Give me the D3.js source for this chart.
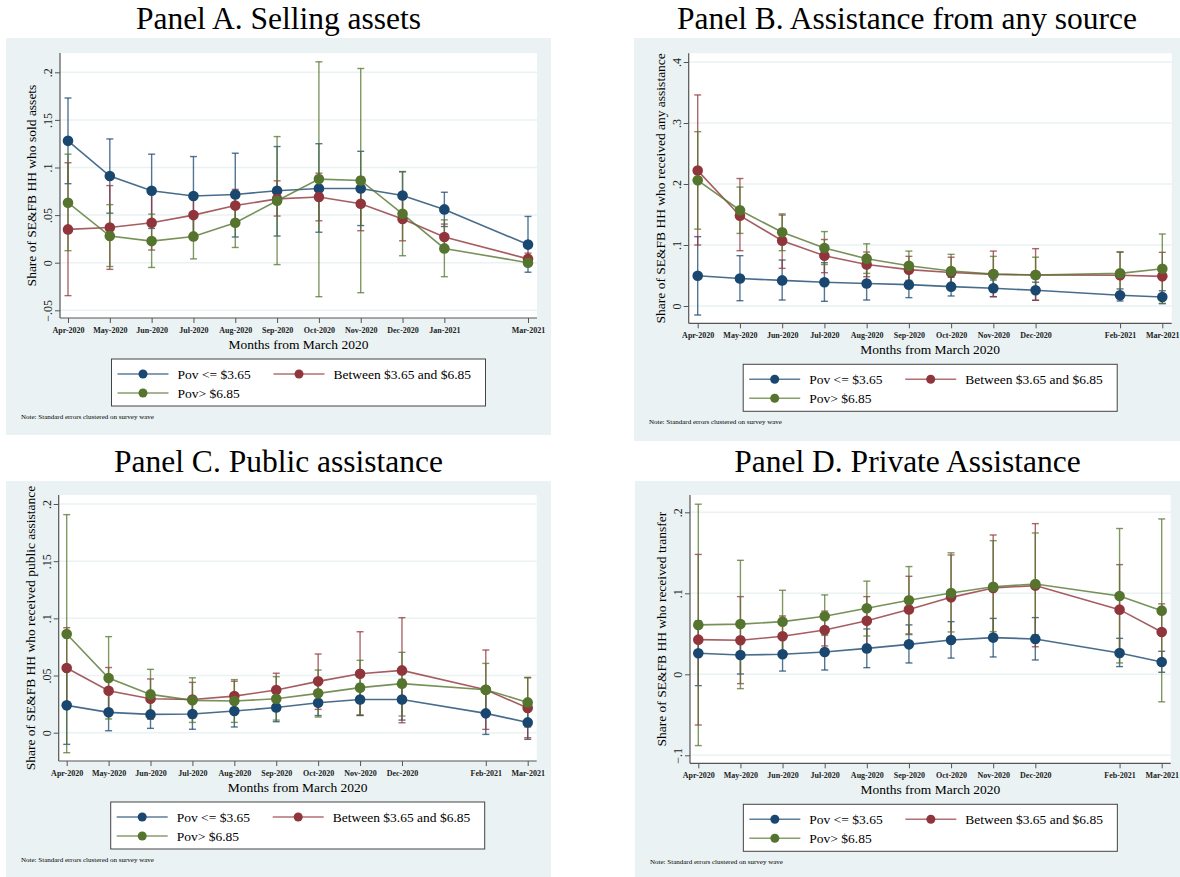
<!DOCTYPE html>
<html>
<head>
<meta charset="utf-8">
<script src="https://cdn.jsdelivr.net/npm/d3@7"></script>
<style>
  body { margin: 0; background: #fff; }
  svg, svg text { font-family: "Liberation Serif", "Times New Roman", Times, "DejaVu Serif", serif !important; }
</style>
</head>
<body>
<script>
// x positions are months since March 2020
const monthsA = ["Apr-2020", "May-2020", "Jun-2020", "Jul-2020", "Aug-2020", "Sep-2020", "Oct-2020", "Nov-2020", "Dec-2020", "Jan-2021", "Mar-2021"];
const stepsA = [1, 2, 3, 4, 5, 6, 7, 8, 9, 10, 12];
const monthsB = ["Apr-2020", "May-2020", "Jun-2020", "Jul-2020", "Aug-2020", "Sep-2020", "Oct-2020", "Nov-2020", "Dec-2020", "Feb-2021", "Mar-2021"];
const stepsB = [1, 2, 3, 4, 5, 6, 7, 8, 9, 11, 12];

const groups = ["Pov <= $3.65", "Between $3.65 and $6.85", "Pov> $6.85"];
const colors = ["#1a476f", "#90353b", "#55752f"];

// Panel A - sold assets
const soldPoor   = [0.128, 0.091, 0.0755, 0.070, 0.0717, 0.0755, 0.078, 0.078, 0.0706, 0.056, 0.019];
const soldPoorLo = [0.083, 0.052, 0.036, 0.029, 0.027, 0.028, 0.032, 0.039, 0.046, 0.038, -0.010];
const soldPoorHi = [0.173, 0.130, 0.114, 0.1115, 0.115, 0.122, 0.125, 0.117, 0.0955, 0.074, 0.0486];
const soldMid    = [0.035, 0.037, 0.042, 0.050, 0.060, 0.067, 0.069, 0.062, 0.046, 0.027, 0.004];
const soldMidLo  = [-0.0346, -0.007, 0.0133, 0.030, 0.043, 0.049, 0.044, 0.0336, 0.023, 0.013, -0.002];
const soldMidHi  = [0.105, 0.081, 0.072, 0.072, 0.077, 0.086, 0.094, 0.090, 0.069, 0.0406, 0.010];
const soldRich   = [0.063, 0.028, 0.0227, 0.0276, 0.042, 0.065, 0.0878, 0.0864, 0.0514, 0.015, 0.0];
const soldRichLo = [0.0126, -0.004, -0.005, 0.004, 0.016, -0.002, -0.0357, -0.0315, 0.0073, -0.0147, -0.003];
const soldRichHi = [0.114, 0.061, 0.051, 0.050, 0.068, 0.1325, 0.211, 0.204, 0.0958, 0.045, 0.004];

// Panel B - any assistance
const anyPoor   = [0.0497, 0.045, 0.042, 0.039, 0.037, 0.035, 0.0317, 0.029, 0.0257, 0.0175, 0.0148];
const anyPoorLo = [-0.0148, 0.0087, 0.0098, 0.0077, 0.0098, 0.0137, 0.0164, 0.0153, 0.0093, 0.0082, 0.0038];
const anyPoorHi = [0.1137, 0.0825, 0.0754, 0.071, 0.063, 0.055, 0.047, 0.0426, 0.039, 0.028, 0.025];
const anyMid    = [0.222, 0.148, 0.107, 0.0825, 0.068, 0.0596, 0.055, 0.0519, 0.0508, 0.0503, 0.0486];
const anyMidLo  = [0.100, 0.0907, 0.0617, 0.0546, 0.048, 0.037, 0.028, 0.0153, 0.0093, 0.013, 0.010];
const anyMidHi  = [0.346, 0.209, 0.149, 0.109, 0.0885, 0.0814, 0.080, 0.090, 0.094, 0.088, 0.088];
const anyRich   = [0.206, 0.157, 0.1208, 0.095, 0.0776, 0.066, 0.0574, 0.0525, 0.0508, 0.0535, 0.061];
const anyRichLo = [0.126, 0.119, 0.0907, 0.068, 0.0535, 0.042, 0.0306, 0.023, 0.021, 0.0186, 0.0044];
const anyRichHi = [0.2858, 0.195, 0.151, 0.122, 0.102, 0.090, 0.0847, 0.0814, 0.080, 0.089, 0.118];

// Panel C - public assistance
const pubPoor   = [0.0239, 0.0178, 0.016, 0.0163, 0.019, 0.022, 0.0262, 0.029, 0.029, 0.0169, 0.009];
const pubPoorLo = [-0.0102, 0.0017, 0.0038, 0.003, 0.005, 0.0096, 0.015, 0.015, 0.011, -0.0015, -0.0058];
const pubPoorHi = [0.058, 0.034, 0.028, 0.030, 0.033, 0.035, 0.037, 0.0425, 0.0466, 0.035, 0.024];
const pubMid    = [0.0566, 0.0367, 0.0297, 0.029, 0.032, 0.0373, 0.0449, 0.0516, 0.0545, 0.0376, 0.0216];
const pubMidLo  = [0.021, 0.016, 0.012, 0.013, 0.018, 0.022, 0.0204, 0.0152, 0.0087, 0.0029, -0.0044];
const pubMidHi  = [0.0918, 0.057, 0.047, 0.044, 0.045, 0.052, 0.0688, 0.0883, 0.1006, 0.0723, 0.048];
const pubRich   = [0.0863, 0.0478, 0.0335, 0.0283, 0.0277, 0.0297, 0.0344, 0.0394, 0.0429, 0.0376, 0.0265];
const pubRichLo = [-0.0175, 0.012, 0.012, 0.009, 0.009, 0.011, 0.0137, 0.0155, 0.0146, 0.015, 0.005];
const pubRichHi = [0.1907, 0.084, 0.0554, 0.048, 0.0464, 0.049, 0.0548, 0.0633, 0.0703, 0.0606, 0.0484];

// Panel D - private assistance
const privPoor   = [0.026, 0.0239, 0.0247, 0.0276, 0.032, 0.037, 0.0424, 0.0453, 0.0436, 0.0263, 0.0152];
const privPoorLo = [-0.014, 0.0004, 0.004, 0.0053, 0.0082, 0.014, 0.020, 0.0214, 0.0177, 0.0095, 0.0025];
const privPoorHi = [0.066, 0.046, 0.046, 0.050, 0.056, 0.061, 0.065, 0.069, 0.070, 0.0444, 0.0284];
const privMid    = [0.0428, 0.042, 0.0469, 0.0547, 0.066, 0.080, 0.095, 0.1066, 0.1095, 0.0798, 0.0523];
const privMidLo  = [-0.0626, -0.0115, 0.022, 0.035, 0.036, 0.0498, 0.045, 0.042, 0.034, 0.025, 0.018];
const privMidHi  = [0.148, 0.0959, 0.072, 0.078, 0.0959, 0.121, 0.1473, 0.172, 0.186, 0.1354, 0.087];
const privRich   = [0.061, 0.062, 0.065, 0.0716, 0.0815, 0.0914, 0.1004, 0.108, 0.1115, 0.0967, 0.0786];
const privRichLo = [-0.088, -0.0177, 0.026, 0.048, 0.0473, 0.049, 0.0523, 0.0527, 0.049, 0.014, -0.034];
const privRichHi = [0.21, 0.1407, 0.1037, 0.098, 0.115, 0.133, 0.150, 0.165, 0.1745, 0.180, 0.1918];

const yTicksA = [-0.05, 0, 0.05, 0.1, 0.15, 0.2];
const yTicksB = [0, 0.1, 0.2, 0.3, 0.4];
const yTicksC = [0, 0.05, 0.1, 0.15, 0.2];
const yTicksD = [-0.1, 0, 0.1, 0.2];

const serif = '"Liberation Serif", "Times New Roman", Times, "DejaVu Serif", serif';

const svg = d3.select('body').append('svg')
    .attr('width', 1180)
    .attr('height', 877)
    .style('font-family', serif);

// Stata style tick labels: .2, .05, -.1, 0
const stataFmt = d => d === 0 ? '0' : d3.format('.2~f')(d).replace('0.', '.');

function drawPanel(cfg) {
  const g = svg.append('g');
  const [bx0, by0, bx1, by1] = cfg.box;
  const [px0, py0, px1, py1] = cfg.plot;

  g.append('rect')
      .attr('x', bx0).attr('y', by0)
      .attr('width', bx1 - bx0).attr('height', by1 - by0)
      .attr('fill', '#eaf2f3');

  g.append('text')
      .attr('x', (bx0 + bx1) / 2).attr('y', by0 - 9)
      .attr('text-anchor', 'middle')
      .attr('font-size', 31.5)
      .attr('fill', '#000')
      .text(cfg.title);

  g.append('rect')
      .attr('x', px0).attr('y', py0)
      .attr('width', px1 - px0).attr('height', py1 - py0)
      .attr('fill', '#fff');

  const x = d3.scaleLinear().domain([1, 12]).range(cfg.xRange);
  const y = d3.scaleLinear().domain(cfg.yDomain).range(cfg.yRange);

  // grid
  g.selectAll('.grid')
      .data(cfg.yTicks)
      .enter()
    .append('line')
      .attr('x1', px0).attr('x2', px1)
      .attr('y1', d => y(d)).attr('y2', d => y(d))
      .attr('stroke', '#eaf2f3')
      .attr('stroke-width', 1.5);

  // y axis
  const yAxis = g.append('g')
      .attr('transform', `translate(${px0},0)`)
      .call(d3.axisLeft(y).tickValues(cfg.yTicks).tickSize(5).tickFormat(stataFmt))
      .attr('font-family', serif);
  yAxis.select('.domain').remove();
  yAxis.selectAll('line').attr('stroke', '#555');
  yAxis.selectAll('text')
      .attr('x', 0).attr('dy', 0)
      .attr('text-anchor', 'middle')
      .attr('transform', 'translate(-8,0) rotate(-90)')
      .attr('font-size', 12)
      .attr('fill', '#222');

  // x axis
  const xAxis = g.append('g')
      .attr('transform', `translate(0,${py1})`)
      .call(d3.axisBottom(x).tickValues(cfg.steps).tickSize(5).tickFormat((d, i) => cfg.months[i]))
      .attr('font-family', serif);
  xAxis.select('.domain').remove();
  xAxis.selectAll('line').attr('stroke', '#555');
  xAxis.selectAll('text')
      .attr('y', 9)
      .attr('font-size', 8)
      .attr('font-weight', 'bold')
      .attr('fill', '#222');

  g.append('line')
      .attr('x1', px0).attr('x2', px0).attr('y1', py0).attr('y2', py1)
      .attr('stroke', '#555').attr('stroke-width', 1.2);
  g.append('line')
      .attr('x1', px0).attr('x2', px1).attr('y1', py1).attr('y2', py1)
      .attr('stroke', '#555').attr('stroke-width', 1.2);

  // axis titles
  g.append('text')
      .attr('transform', `translate(${px0 - 24},${(py0 + py1) / 2}) rotate(-90)`)
      .attr('text-anchor', 'middle')
      .attr('font-size', 13.5)
      .text(cfg.yTitle);
  g.append('text')
      .attr('x', (px0 + px1) / 2).attr('y', py1 + 31)
      .attr('text-anchor', 'middle')
      .attr('font-size', 13.5)
      .text('Months from March 2020');

  // confidence intervals
  cfg.series.forEach((s, k) => {
    const pts = cfg.steps.map((st, i) => ({ st, v: s.est[i], lo: s.lo[i], hi: s.hi[i] }));
    const ci = g.append('g')
        .attr('stroke', colors[k])
        .attr('stroke-opacity', 0.75)
        .attr('stroke-width', 1.4);
    ci.selectAll('.bar')
        .data(pts)
        .enter()
      .append('line')
        .attr('x1', d => x(d.st)).attr('x2', d => x(d.st))
        .attr('y1', d => y(d.lo)).attr('y2', d => y(d.hi));
    ci.selectAll('.capLo')
        .data(pts)
        .enter()
      .append('line')
        .attr('x1', d => x(d.st) - 3.5).attr('x2', d => x(d.st) + 3.5)
        .attr('y1', d => y(d.lo)).attr('y2', d => y(d.lo));
    ci.selectAll('.capHi')
        .data(pts)
        .enter()
      .append('line')
        .attr('x1', d => x(d.st) - 3.5).attr('x2', d => x(d.st) + 3.5)
        .attr('y1', d => y(d.hi)).attr('y2', d => y(d.hi));
  });

  // connected lines
  cfg.series.forEach((s, k) => {
    const pts = cfg.steps.map((st, i) => ({ st, v: s.est[i] }));
    g.append('path')
        .datum(pts)
        .attr('fill', 'none')
        .attr('stroke', colors[k])
        .attr('stroke-opacity', 0.8)
        .attr('stroke-width', 1.6)
        .attr('d', d3.line().x(d => x(d.st)).y(d => y(d.v)));
    g.selectAll('.dot' + k)
        .data(pts)
        .enter()
      .append('circle')
        .attr('cx', d => x(d.st))
        .attr('cy', d => y(d.v))
        .attr('r', 5.3)
        .attr('fill', colors[k]);
  });

  // legend
  const lw = 374, lh = 47;
  const lx = (px0 + px1) / 2 - lw / 2;
  const ly = py1 + 41;
  g.append('rect')
      .attr('x', lx).attr('y', ly)
      .attr('width', lw).attr('height', lh)
      .attr('fill', '#fff')
      .attr('stroke', '#444')
      .attr('stroke-width', 1);
  const slots = [[6, 15], [162, 15], [6, 34]];
  groups.forEach((name, k) => {
    const sx = lx + slots[k][0], sy = ly + slots[k][1];
    g.append('line')
        .attr('x1', sx).attr('x2', sx + 51)
        .attr('y1', sy).attr('y2', sy)
        .attr('stroke', colors[k])
        .attr('stroke-opacity', 0.7)
        .attr('stroke-width', 1.6);
    g.append('circle')
        .attr('cx', sx + 25.5).attr('cy', sy)
        .attr('r', 4.5)
        .attr('fill', colors[k]);
    g.append('text')
        .attr('x', sx + 60).attr('y', sy + 5)
        .attr('font-size', 13.5)
        .text(name);
  });

  g.append('text')
      .attr('x', bx0 + 15).attr('y', ly + lh + 13)
      .attr('font-size', 7)
      .text('Note: Standard errors clustered on survey wave');
}

drawPanel({
  title: 'Panel A. Selling assets',
  box: [6, 38, 551, 435],
  plot: [60, 53, 537, 318],
  xRange: [68, 528],
  yDomain: [-0.05, 0.2], yRange: [310.3, 72.3],
  yTicks: yTicksA,
  months: monthsA, steps: stepsA,
  yTitle: 'Share of SE&FB HH who sold assets',
  series: [
    { est: soldPoor, lo: soldPoorLo, hi: soldPoorHi },
    { est: soldMid, lo: soldMidLo, hi: soldMidHi },
    { est: soldRich, lo: soldRichLo, hi: soldRichHi }
  ]
});

drawPanel({
  title: 'Panel B. Assistance from any source',
  box: [634, 38, 1180, 441],
  plot: [688.7, 53.3, 1171.7, 323.3],
  xRange: [697.7, 1162.3],
  yDomain: [0, 0.4], yRange: [306, 62],
  yTicks: yTicksB,
  months: monthsB, steps: stepsB,
  yTitle: 'Share of SE&FB HH who received any assistance',
  series: [
    { est: anyPoor, lo: anyPoorLo, hi: anyPoorHi },
    { est: anyMid, lo: anyMidLo, hi: anyMidHi },
    { est: anyRich, lo: anyRichLo, hi: anyRichHi }
  ]
});

drawPanel({
  title: 'Panel C. Public assistance',
  box: [6, 481, 551, 877],
  plot: [58.7, 495, 536.7, 761],
  xRange: [66.7, 527.7],
  yDomain: [0, 0.2], yRange: [732.7, 504],
  yTicks: yTicksC,
  months: monthsB, steps: stepsB,
  yTitle: 'Share of SE&FB HH who received public assistance',
  series: [
    { est: pubPoor, lo: pubPoorLo, hi: pubPoorHi },
    { est: pubMid, lo: pubMidLo, hi: pubMidHi },
    { est: pubRich, lo: pubRichLo, hi: pubRichHi }
  ]
});

drawPanel({
  title: 'Panel D. Private Assistance',
  box: [635, 481, 1180, 877],
  plot: [690, 495, 1170.7, 763.3],
  xRange: [698.3, 1161.7],
  yDomain: [-0.1, 0.2], yRange: [755.3, 512.3],
  yTicks: yTicksD,
  months: monthsB, steps: stepsB,
  yTitle: 'Share of SE&FB HH who received transfer',
  series: [
    { est: privPoor, lo: privPoorLo, hi: privPoorHi },
    { est: privMid, lo: privMidLo, hi: privMidHi },
    { est: privRich, lo: privRichLo, hi: privRichHi }
  ]
});
</script>
</body>
</html>
